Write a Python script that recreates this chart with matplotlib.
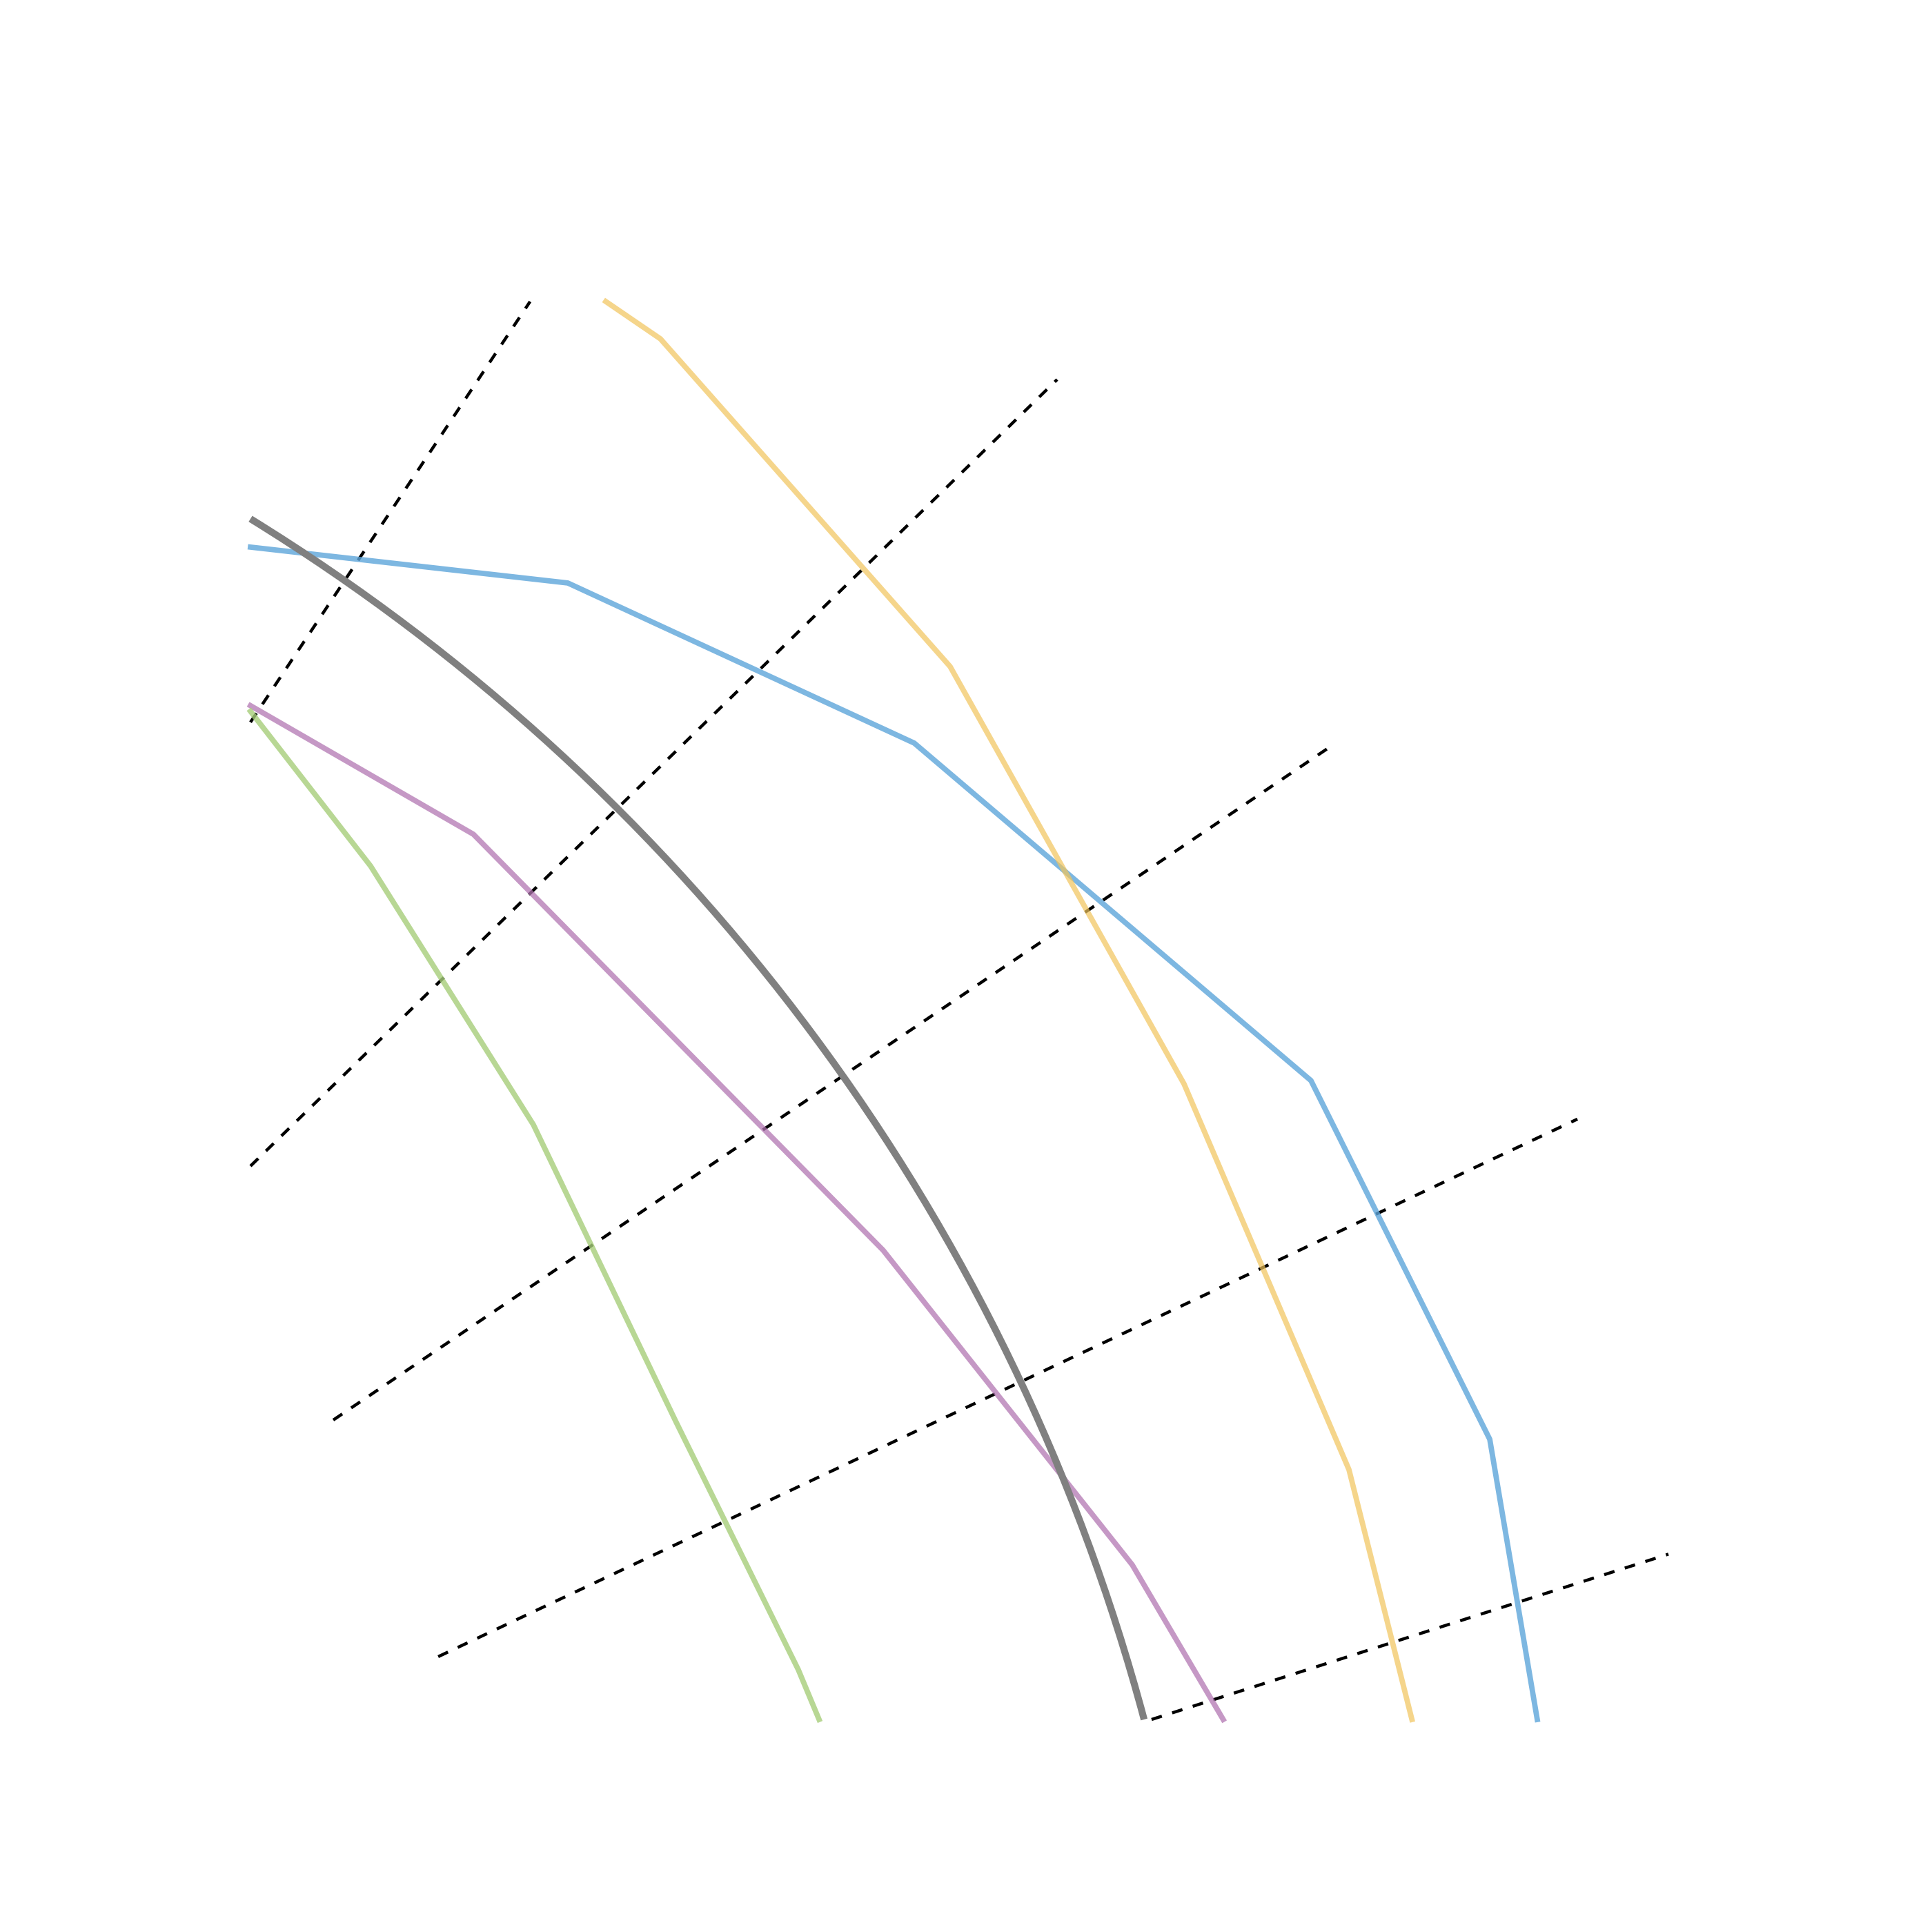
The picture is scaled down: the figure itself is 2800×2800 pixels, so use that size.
import matplotlib
matplotlib.use("Agg")
import matplotlib.pyplot as plt
import numpy as np
from matplotlib.patches import Arc

# ---- data ----
blue_x = [0.0, 22.38, 46.81, 74.79, 87.40, 90.75]
blue_y = [82.68, 80.15, 68.86, 45.06, 19.76, 0.0]
yellow_x = [25.06, 28.91, 49.34, 65.84, 77.47, 81.91]
yellow_y = [100.0, 97.37, 74.26, 44.82, 17.62, 0.0]
purple_x = [0.0, 15.72, 44.62, 62.19, 68.60]
purple_y = [71.50, 62.43, 33.09, 10.90, 0.0]
green_x = [0.0, 8.47, 19.95, 30.02, 38.64, 40.10]
green_y = [71.10, 60.19, 41.95, 20.97, 3.50, 0.0]

# dashed reference segments: (x0, y0, x1, y1)
ref_x0 = [0.0, 0.0, 5.84, 13.24, 63.55]
ref_y0 = [70.33, 39.03, 21.12, 4.43, 0.0]
ref_x1 = [19.72, 56.89, 76.16, 93.58, 100.0]
ref_y1 = [100.0, 94.50, 68.61, 42.34, 11.66]

# grey reference arc: centre and radius
arc_cx, arc_cy, arc_r = -74.99, -36.93, 142.87

fig = plt.figure(figsize=(10, 10), dpi=280)
ax = fig.add_axes([363 / 2800, 308 / 2800, 2055 / 2800, 2055 / 2800])
ax.set_xlim(0, 100)
ax.set_ylim(0, 100)
ax.set_aspect('equal')
ax.axis('off')

for x0, y0, x1, y1 in zip(ref_x0, ref_y0, ref_x1, ref_y1):
    ax.plot([x0, x1], [y0, y1], color='black', lw=1.15,
            linestyle=(0, (3.5, 3.5)), zorder=1, clip_on=False)

# arc spans from the left edge (x=0) to the bottom edge (y=0)
t_top = np.degrees(np.arccos((0 - arc_cx) / arc_r))
t_bot = np.degrees(np.arcsin((0 - arc_cy) / arc_r))
ax.add_patch(Arc((arc_cx, arc_cy), 2 * arc_r, 2 * arc_r, theta1=t_bot,
                 theta2=t_top, color='#808080', lw=2.6, zorder=3,
                 clip_on=False))

for xs, ys, col, a in [(blue_x, blue_y, '#5DA5DA', 0.8),
                       (yellow_x, yellow_y, '#F2C45A', 0.7),
                       (purple_x, purple_y, '#B276B2', 0.75),
                       (green_x, green_y, '#A6CE7A', 0.8)]:
    ax.plot(xs, ys, color=col, alpha=a, lw=2.0, zorder=2, clip_on=False)

fig.savefig('out.png', dpi=280)
